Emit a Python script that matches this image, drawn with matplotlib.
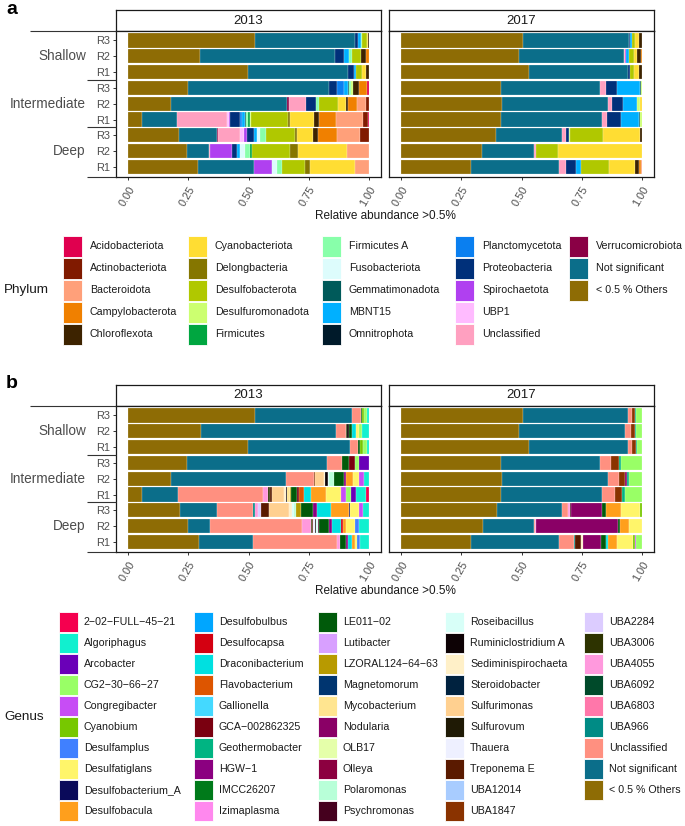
import matplotlib
matplotlib.use("Agg")
import matplotlib.pyplot as plt
from matplotlib.patches import Rectangle
from matplotlib.transforms import blended_transform_factory
import numpy as np

plt.rcParams['font.family'] = ['Liberation Sans', 'DejaVu Sans']

W, H, DPI = 685, 826, 100

years = ["2013", "2017"]
depths = ["Shallow", "Intermediate", "Deep"]
replicates = ["R3", "R2", "R1"]
x_ticks = [0.0, 0.25, 0.5, 0.75, 1.0]
x_tick_labels = ["0.00", "0.25", "0.50", "0.75", "1.00"]
x_label = "Relative abundance >0.5%"

phylum_levels = ["Acidobacteriota", "Actinobacteriota", "Bacteroidota", "Campylobacterota",
                 "Chloroflexota", "Cyanobacteriota", "Delongbacteria", "Desulfobacterota",
                 "Desulfuromonadota", "Firmicutes", "Firmicutes A", "Fusobacteriota",
                 "Gemmatimonadota", "MBNT15", "Omnitrophota", "Planctomycetota",
                 "Proteobacteria", "Spirochaetota", "UBP1", "Unclassified",
                 "Verrucomicrobiota", "Not significant", "< 0.5 % Others"]
phylum_colors = ["#E0004F", "#801A00", "#FFA07A", "#F08000", "#3D2300", "#FFDD33", "#857600",
                 "#B0C800", "#CCFF70", "#00A640", "#88FFAA", "#DDFCFC", "#005A5A", "#00B0FF",
                 "#001A2A", "#0A7FF0", "#00307A", "#B040F0", "#FFBBFF", "#FFA0C0", "#8A0045",
                 "#0B6E8A", "#8E6C05"]

genus_levels = ["2-02-FULL-45-21", "Algoriphagus", "Arcobacter", "CG2-30-66-27", "Congregibacter",
                "Cyanobium", "Desulfamplus", "Desulfatiglans", "Desulfobacterium_A", "Desulfobacula",
                "Desulfobulbus", "Desulfocapsa", "Draconibacterium", "Flavobacterium", "Gallionella",
                "GCA-002862325", "Geothermobacter", "HGW-1", "IMCC26207", "Izimaplasma",
                "LE011-02", "Lutibacter", "LZORAL124-64-63", "Magnetomorum", "Mycobacterium",
                "Nodularia", "OLB17", "Olleya", "Polaromonas", "Psychromonas",
                "Roseibacillus", "Ruminiclostridium A", "Sediminispirochaeta", "Steroidobacter",
                "Sulfurimonas", "Sulfurovum", "Thauera", "Treponema E", "UBA12014", "UBA1847",
                "UBA2284", "UBA3006", "UBA4055", "UBA6092", "UBA6803", "UBA966",
                "Unclassified", "Not significant", "< 0.5 % Others"]
genus_colors = ["#F5004F", "#11F0CF", "#6A00B8", "#99FF66", "#C74DF5", "#77C800", "#4080FF",
                "#FFF56A", "#0A0A5A", "#FF9F1C", "#00A6FF", "#D40011", "#00E0E0", "#DD5500",
                "#44D9FF", "#7A0010", "#00B482", "#8B0080", "#007A1A", "#FF88EE", "#005A0A",
                "#D8A0FF", "#B89A00", "#003570", "#FFE590", "#8A0066", "#E5FFAA", "#8C0040",
                "#B8FFD8", "#45001E", "#D8FFF8", "#0D0205", "#FFF0C8", "#00223F", "#FFD090",
                "#1F1A05", "#EEF0FF", "#5A1A00", "#A8CCFF", "#8A3300", "#DCCCFF", "#2D3300",
                "#FF99DD", "#004A2A", "#FF77AA", "#008B85", "#FF9080", "#0B6E8A", "#8E6C05"]

# bar order (top to bottom): Shallow R3,R2,R1, Intermediate R3,R2,R1, Deep R3,R2,R1
phylum_2013 = {
    "< 0.5 % Others":    [0.525, 0.300, 0.497, 0.245, 0.179, 0.058, 0.213, 0.245, 0.292],
    "Not significant":   [0.415, 0.561, 0.418, 0.582, 0.480, 0.143, 0.155, 0.089, 0.229],
    "Verrucomicrobiota": [0, 0, 0, 0, 0.008, 0, 0.007, 0, 0],
    "Unclassified":      [0, 0, 0, 0, 0.072, 0.206, 0.090, 0.004, 0],
    "UBP1":              [0, 0, 0, 0, 0, 0.007, 0.015, 0, 0],
    "Spirochaetota":     [0, 0, 0, 0, 0, 0.007, 0.012, 0.091, 0.076],
    "Proteobacteria":    [0.015, 0.037, 0.021, 0.032, 0.039, 0.039, 0.030, 0.022, 0],
    "Planctomycetota":   [0, 0, 0, 0.030, 0, 0.010, 0, 0, 0],
    "MBNT15":            [0.010, 0.021, 0.011, 0.015, 0, 0.010, 0.012, 0.011, 0],
    "Gemmatimonadota":   [0, 0, 0, 0.005, 0, 0.006, 0, 0, 0],
    "Fusobacteriota":    [0, 0, 0, 0, 0, 0, 0.015, 0.021, 0.021],
    "Firmicutes A":      [0.004, 0.010, 0, 0.008, 0.012, 0.007, 0.022, 0.021, 0.021],
    "Firmicutes":        [0, 0, 0, 0, 0, 0.008, 0, 0.007, 0],
    "Desulfuromonadota": [0, 0, 0, 0.008, 0, 0.004, 0, 0, 0],
    "Desulfobacterota":  [0.020, 0.039, 0.025, 0, 0.080, 0.154, 0.120, 0.159, 0.097],
    "Delongbacteria":    [0, 0, 0, 0, 0, 0.007, 0.008, 0.035, 0.018],
    "Cyanobacteriota":   [0.005, 0, 0.017, 0, 0.035, 0.100, 0.070, 0.201, 0.190],
    "Chloroflexota":     [0.005, 0.021, 0.011, 0.024, 0.007, 0.020, 0.018, 0, 0],
    "Campylobacterota":  [0, 0.011, 0, 0.036, 0.037, 0.067, 0.080, 0, 0],
    "Bacteroidota":      [0, 0, 0, 0, 0.039, 0.111, 0.096, 0.091, 0.056],
    "Actinobacteriota":  [0, 0, 0, 0, 0.011, 0.023, 0.036, 0, 0],
    "Acidobacteriota":   [0, 0, 0, 0.007, 0, 0.003, 0, 0, 0],
}

phylum_2017 = {
    "< 0.5 % Others":    [0.507, 0.490, 0.532, 0.414, 0.421, 0.414, 0.396, 0.338, 0.289],
    "Not significant":   [0.442, 0.435, 0.410, 0.413, 0.438, 0.420, 0.272, 0.213, 0.366],
    "Unclassified":      [0, 0.006, 0, 0.022, 0.017, 0.022, 0.018, 0.008, 0.032],
    "Spirochaetota":     [0, 0.004, 0, 0, 0, 0, 0, 0, 0],
    "Proteobacteria":    [0.004, 0, 0.010, 0.048, 0.047, 0.055, 0.011, 0, 0.039],
    "MBNT15":            [0.006, 0.011, 0, 0.093, 0.057, 0.076, 0, 0, 0.021],
    "Gemmatimonadota":   [0, 0, 0, 0.004, 0, 0.005, 0, 0, 0],
    "Desulfuromonadota": [0, 0, 0, 0.006, 0.011, 0.007, 0.003, 0, 0],
    "Desulfobacterota":  [0.014, 0.021, 0.018, 0, 0, 0, 0.138, 0.093, 0.116],
    "Cyanobacteriota":   [0.014, 0.014, 0.017, 0, 0.010, 0, 0.152, 0.348, 0.108],
    "Chloroflexota":     [0.014, 0.017, 0.014, 0, 0, 0, 0.010, 0, 0.017],
    "Campylobacterota":  [0, 0.003, 0, 0, 0, 0, 0, 0, 0.008],
    "Bacteroidota":      [0, 0, 0, 0, 0, 0, 0, 0, 0.006],
}

genus_2013 = {
    "< 0.5 % Others":      [0.525, 0.300, 0.497, 0.245, 0.179, 0.058, 0.213, 0.245, 0.292],
    "Not significant":     [0.405, 0.560, 0.418, 0.578, 0.474, 0.142, 0.153, 0.089, 0.226],
    "Unclassified":        [0.035, 0.040, 0.035, 0.062, 0.115, 0.344, 0.146, 0.379, 0.343],
    "UBA966":              [0, 0, 0, 0, 0, 0, 0.008, 0, 0],
    "UBA4055":             [0, 0, 0, 0, 0, 0.021, 0.014, 0.035, 0.014],
    "UBA3006":             [0, 0.006, 0, 0, 0, 0.008, 0, 0.006, 0],
    "UBA2284":             [0, 0, 0, 0, 0, 0, 0.010, 0, 0],
    "UBA1847":             [0, 0, 0, 0, 0.004, 0, 0, 0, 0],
    "Treponema E":         [0, 0, 0, 0, 0, 0.011, 0.034, 0.005, 0],
    "Thauera":             [0, 0, 0, 0, 0, 0, 0, 0.005, 0],
    "Sulfurimonas":        [0, 0, 0, 0, 0.035, 0.048, 0.084, 0, 0],
    "Sediminispirochaeta": [0, 0, 0, 0, 0.005, 0.007, 0.010, 0, 0],
    "Ruminiclostridium A": [0, 0.008, 0, 0, 0.011, 0.004, 0, 0.008, 0],
    "Roseibacillus":       [0, 0, 0, 0, 0.007, 0, 0.011, 0.006, 0],
    "Psychromonas":        [0, 0, 0, 0, 0, 0, 0, 0.005, 0],
    "Polaromonas":         [0, 0, 0, 0, 0.020, 0, 0.007, 0, 0],
    "Mycobacterium":       [0, 0, 0, 0, 0, 0.010, 0, 0, 0],
    "LZORAL124-64-63":     [0, 0, 0, 0, 0, 0.007, 0.019, 0, 0],
    "LE011-02":            [0.008, 0.012, 0.010, 0.026, 0.042, 0.022, 0.052, 0.040, 0.025],
    "HGW-1":               [0, 0, 0, 0, 0.007, 0, 0.013, 0.012, 0.007],
    "GCA-002862325":       [0, 0, 0, 0.028, 0, 0.010, 0, 0, 0],
    "Flavobacterium":      [0, 0, 0, 0, 0, 0.021, 0, 0, 0],
    "Draconibacterium":    [0, 0.015, 0, 0, 0, 0.028, 0.058, 0.038, 0.020],
    "Desulfocapsa":        [0, 0, 0, 0, 0, 0, 0, 0.007, 0],
    "Desulfobacula":       [0, 0, 0, 0, 0.030, 0.058, 0.075, 0.015, 0.011],
    "Desulfobacterium_A":  [0, 0, 0, 0, 0, 0, 0.005, 0, 0],
    "Desulfatiglans":      [0, 0.012, 0, 0, 0.025, 0.064, 0.037, 0.033, 0.006],
    "Desulfamplus":        [0, 0, 0, 0, 0, 0, 0, 0.018, 0.012],
    "Cyanobium":           [0.008, 0, 0.010, 0, 0, 0, 0, 0, 0.004],
    "Congregibacter":      [0, 0, 0, 0, 0.018, 0.019, 0.015, 0, 0],
    "CG2-30-66-27":        [0.012, 0.012, 0.015, 0.014, 0, 0.018, 0, 0, 0],
    "Arcobacter":          [0, 0, 0, 0.042, 0, 0.021, 0, 0, 0],
    "Algoriphagus":        [0.007, 0.030, 0.010, 0, 0.022, 0.042, 0.025, 0.041, 0.035],
    "2-02-FULL-45-21":     [0, 0, 0, 0, 0, 0.011, 0, 0, 0],
}

genus_2017 = {
    "< 0.5 % Others":      [0.507, 0.490, 0.532, 0.414, 0.421, 0.414, 0.396, 0.338, 0.289],
    "Not significant":     [0.433, 0.440, 0.408, 0.413, 0.438, 0.420, 0.272, 0.213, 0.366],
    "Unclassified":        [0.020, 0.025, 0.020, 0.046, 0.044, 0.055, 0.025, 0.005, 0.064],
    "UBA966":              [0, 0, 0, 0, 0, 0, 0, 0, 0.004],
    "UBA4055":             [0, 0, 0, 0, 0, 0, 0.007, 0.004, 0],
    "UBA1847":             [0.010, 0.015, 0.015, 0.032, 0.028, 0.028, 0, 0, 0],
    "Treponema E":         [0, 0, 0, 0, 0, 0, 0, 0, 0.024],
    "Sediminispirochaeta": [0, 0, 0, 0, 0, 0, 0, 0, 0.007],
    "Psychromonas":        [0, 0, 0, 0, 0, 0, 0.006, 0, 0],
    "Nodularia":           [0, 0, 0, 0, 0.007, 0, 0.127, 0.338, 0.076],
    "LE011-02":            [0, 0, 0, 0, 0, 0, 0.015, 0.010, 0.021],
    "Geothermobacter":     [0.005, 0.005, 0.005, 0.007, 0.007, 0.011, 0, 0, 0],
    "Draconibacterium":    [0, 0, 0, 0, 0, 0, 0, 0, 0.007],
    "Desulfobacula":       [0, 0, 0, 0, 0, 0, 0.065, 0.036, 0.041],
    "Desulfatiglans":      [0, 0, 0, 0, 0, 0, 0.076, 0.054, 0.065],
    "Cyanobium":           [0, 0, 0, 0, 0, 0, 0.010, 0, 0.007],
    "Congregibacter":      [0, 0, 0, 0, 0, 0, 0, 0, 0.007],
    "CG2-30-66-27":        [0.025, 0.025, 0.020, 0.088, 0.055, 0.072, 0, 0, 0.023],
}

TXT_GREY = "#4D4D4D"
fig = plt.figure(figsize=(W / DPI, H / DPI), dpi=DPI)
overlay = fig.add_axes([0, 0, 1, 1], zorder=10)
overlay.set_xlim(0, W)
overlay.set_ylim(H, 0)
overlay.axis("off")


def px_axes(x0, y0, x1, y1, **kw):
    return fig.add_axes([x0 / W, 1 - y1 / H, (x1 - x0) / W, (y1 - y0) / H], **kw)


def disp(s):
    return s.replace("-", "\u2212")


def draw_panel(dy, tag, levels, colors, datasets):
    nbar = len(depths) * len(replicates)
    ypos = np.arange(nbar, 0, -1)
    overlay.text(6, 9 + dy, tag, fontsize=14, fontweight="bold", ha="left", va="center")
    for k, (year, data) in enumerate(zip(years, datasets)):
        x0, x1 = (116, 381) if k == 0 else (389, 654)
        # strip
        sax = px_axes(x0, 10 + dy, x1, 31 + dy)
        sax.set_facecolor("white")
        sax.set_xticks([]); sax.set_yticks([])
        for sp in sax.spines.values():
            sp.set_color("#1A1A1A"); sp.set_linewidth(0.9)
        sax.text(0.5, 0.5, year, transform=sax.transAxes, ha="center", va="center",
                 fontsize=9.5, color="#1A1A1A")
        # panel
        ax = px_axes(x0, 31 + dy, x1, 176.5 + dy)
        totals = np.zeros(nbar)
        for lev in levels:
            totals += np.array(data.get(lev, [0] * nbar), float)
        left = np.zeros(nbar)
        for lev, col in zip(levels[::-1], colors[::-1]):
            vals = np.array(data.get(lev, [0] * nbar), float) / totals
            m = vals > 0
            if m.any():
                ax.barh(ypos[m], vals[m], left=left[m], height=0.9, color=col,
                        edgecolor="white", linewidth=0.15)
            left += vals
        ax.set_xlim(-0.05, 1.05)
        ax.set_ylim(0.4, nbar + 0.6)
        for sp in ax.spines.values():
            sp.set_color("#1A1A1A"); sp.set_linewidth(0.9)
        ax.set_xticks(x_ticks)
        ax.set_xticklabels(x_tick_labels, rotation=60, ha="right", va="top",
                           rotation_mode="anchor", fontsize=7.9, color=TXT_GREY)
        ax.tick_params(axis="x", length=2.5, width=0.7, color="#333333", pad=3)
        if k == 0:
            ax.set_yticks(ypos)
            ax.set_yticklabels(replicates * len(depths), fontsize=7.9, color=TXT_GREY)
            ax.tick_params(axis="y", length=2.5, width=0.7, color="#333333", pad=1.5)
            tr = blended_transform_factory(overlay.transData, ax.transData)
            nrep = len(replicates)
            bounds = [nbar + 0.6] + [nbar - nrep * (g + 1) + 0.5 for g in range(len(depths) - 1)] + [0.4]
            for g, dname in enumerate(depths):
                ymid = nbar - nrep * g - (nrep - 1) / 2
                overlay.text(86, ymid, dname, transform=tr, ha="right", va="center",
                             fontsize=9.8, color=TXT_GREY)
            for i, b in enumerate(bounds):
                xs = 30 if i == 0 else 87
                overlay.plot([xs, 116], [b, b], transform=tr, color="#333333", lw=0.8,
                             solid_capstyle="butt")
        else:
            ax.set_yticks([])
    overlay.text(385, 216 + dy, x_label, ha="center", va="center", fontsize=8.5,
                 color="#1A1A1A")


def draw_legend(title, title_y, levels, colors, col_x, text_dx, row0, drow, kw, kh, nrow):
    overlay.text(4, title_y, title, ha="left", va="center", fontsize=9.7, color="#1A1A1A")
    for i, (lev, col) in enumerate(zip(levels, colors)):
        c, r = divmod(i, nrow)
        yc = row0 + r * drow
        xk = col_x[c]
        overlay.add_patch(Rectangle((xk, yc - kh / 2), kw, kh, facecolor=col,
                                    edgecolor="white", linewidth=0.6))
        overlay.text(xk + kw + text_dx, yc, disp(lev), ha="left", va="center",
                     fontsize=7.7, color="#1A1A1A")


draw_panel(0, "a", phylum_levels, phylum_colors, [phylum_2013, phylum_2017])
draw_panel(375, "b", genus_levels, genus_colors, [genus_2013, genus_2017])

draw_legend("Phylum", 290, phylum_levels, phylum_colors, [63, 188, 322, 455, 569], 8,
            246, 22, 19, 21, 5)
draw_legend("Genus", 716.5, genus_levels, genus_colors, [59, 194, 318, 445, 584], 6,
            622, 21, 19, 20, 10)

fig.savefig("out.png", dpi=DPI)
